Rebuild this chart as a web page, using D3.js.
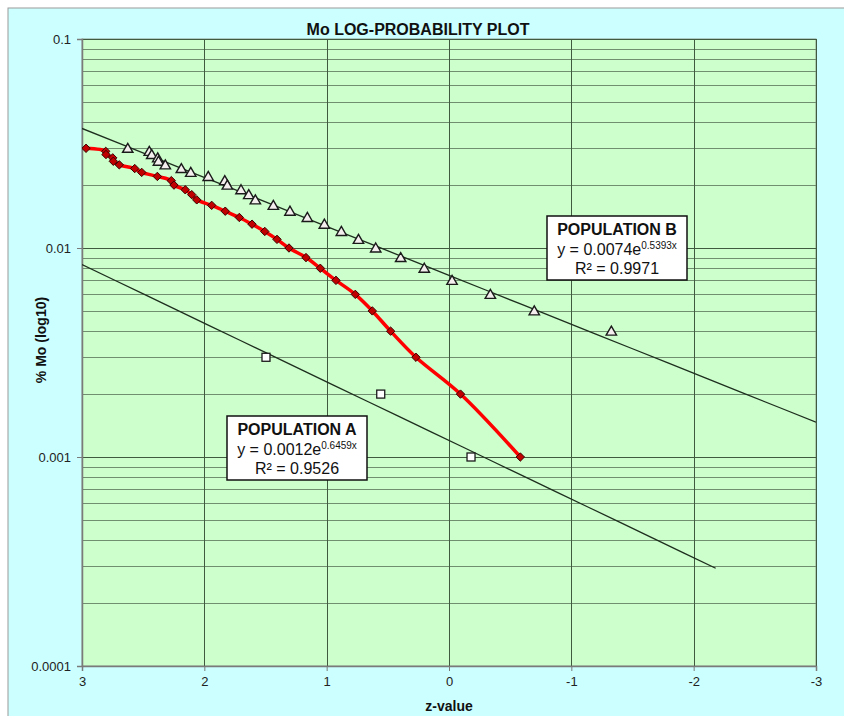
<!DOCTYPE html>
<html>
<head>
<meta charset="utf-8">
<script src="https://cdn.jsdelivr.net/npm/d3@7"></script>
<style>
  html, body { margin: 0; padding: 0; background: #ffffff; }
  svg { display: block; }
</style>
</head>
<body>
<svg id="chart" width="844" height="716"></svg>
<script>
// ---------------- DATA ----------------
const chartTitle = "Mo LOG-PROBABILITY PLOT";
const xAxisTitle = "z-value";
const yAxisTitle = "% Mo (log10)";

const xTickValues = [3, 2, 1, 0, -1, -2, -3];
const xTickLabels = ["3", "2", "1", "0", "-1", "-2", "-3"];
const yTickValues = [0.1, 0.01, 0.001, 0.0001];
const yTickLabels = ["0.1", "0.01", "0.001", "0.0001"];

// cumulative curve (red, diamonds)
const cumulativeZ = [2.967, 2.806, 2.804, 2.749, 2.744, 2.695, 2.569, 2.512, 2.384, 2.270,
  2.248, 2.156, 2.103, 2.062, 1.940, 1.829, 1.714, 1.610, 1.506, 1.406,
  1.308, 1.169, 1.052, 0.924, 0.766, 0.627, 0.477, 0.270, -0.094, -0.583];
const cumulativeMo = [0.030, 0.029, 0.028, 0.027, 0.026, 0.025, 0.024, 0.023, 0.022, 0.021,
  0.020, 0.019, 0.018, 0.017, 0.016, 0.015, 0.014, 0.013, 0.012, 0.011,
  0.010, 0.009, 0.008, 0.007, 0.006, 0.005, 0.004, 0.003, 0.002, 0.001];

// Population B (triangles)
const popBZ = [2.626, 2.450, 2.430, 2.381, 2.375, 2.319, 2.188, 2.111, 1.968, 1.833,
  1.812, 1.700, 1.637, 1.583, 1.436, 1.300, 1.158, 1.019, 0.880, 0.740,
  0.599, 0.395, 0.202, -0.025, -0.338, -0.697, -1.327];
const popBMo = [0.030, 0.029, 0.028, 0.027, 0.026, 0.025, 0.024, 0.023, 0.022, 0.021,
  0.020, 0.019, 0.018, 0.017, 0.016, 0.015, 0.014, 0.013, 0.012, 0.011,
  0.010, 0.009, 0.008, 0.007, 0.006, 0.005, 0.004];

// Population A (squares)
const popAZ = [1.496, 0.558, -0.180];
const popAMo = [0.003, 0.002, 0.001];

// exponential trendlines y = a * e^(b x)
const trendA = { label: "POPULATION A", a: 0.0012, b: 0.6459, r2: "0.9526", eq: "y = 0.0012e", exp: "0.6459x", from: 3, to: -2.18 };
const trendB = { label: "POPULATION B", a: 0.0074, b: 0.5393, r2: "0.9971", eq: "y = 0.0074e", exp: "0.5393x", from: 3, to: -3 };

// ---------------- LAYOUT ----------------
const svg = d3.select("#chart");
const plot = { left: 82, right: 816, top: 39, bottom: 666 };
const fontMain = "'Liberation Sans', Arial, sans-serif";
const fontNarrow = "'Liberation Sans Narrow', 'Arial Narrow', 'Liberation Sans', Arial, sans-serif";

// chart area background
svg.append("rect").attr("x", 8).attr("y", 8).attr("width", 844 - 8 + 2).attr("height", 716 - 8 + 2)
  .attr("fill", "#ccffff").attr("stroke", "#9a9a9a").attr("stroke-width", 1);

const x = d3.scaleLinear().domain([3, -3]).range([plot.left, plot.right]);
const y = d3.scaleLog().domain([0.0001, 0.1]).range([plot.bottom, plot.top]);

// plot area
svg.append("rect").attr("x", plot.left).attr("y", plot.top)
  .attr("width", plot.right - plot.left).attr("height", plot.bottom - plot.top)
  .attr("fill", "#ccffcc").attr("stroke", "#8a9a8a").attr("stroke-width", 1);

// horizontal gridlines (minor + major)
const gridG = svg.append("g");
gridG.selectAll("line.h").data(y.ticks()).join("line")
  .attr("x1", plot.left).attr("x2", plot.right)
  .attr("y1", d => Math.round(y(d)) + 0.5).attr("y2", d => Math.round(y(d)) + 0.5)
  .attr("stroke", d => yTickValues.includes(+d.toPrecision(3)) ? "#3f5a3f" : "#6f8f6f")
  .attr("stroke-width", 1);
// vertical gridlines
gridG.selectAll("line.v").data(xTickValues).join("line")
  .attr("y1", plot.top).attr("y2", plot.bottom)
  .attr("x1", d => Math.round(x(d)) + 0.5).attr("x2", d => Math.round(x(d)) + 0.5)
  .attr("stroke", "#3f5a3f").attr("stroke-width", 1);

// axes
const xAxis = d3.axisBottom(x).tickValues(xTickValues).tickSize(5).tickPadding(6)
  .tickFormat((d, i) => xTickLabels[i]);
const xg = svg.append("g").attr("transform", `translate(0,${plot.bottom})`).call(xAxis);
xg.select(".domain").attr("stroke", "#7a7a7a").attr("stroke-width", 1.5);
xg.selectAll(".tick line").attr("stroke", "#7a7a7a");
xg.selectAll("text").attr("font-family", fontMain).attr("font-size", 13).attr("fill", "#222");

const yAxis = d3.axisLeft(y).tickValues(yTickValues).tickSize(5).tickPadding(6)
  .tickFormat((d, i) => yTickLabels[i]);
const yg = svg.append("g").attr("transform", `translate(${plot.left},0)`).call(yAxis);
yg.select(".domain").attr("stroke", "#7a7a7a").attr("stroke-width", 1.5);
yg.selectAll(".tick line").attr("stroke", "#7a7a7a");
yg.selectAll("text").attr("font-family", fontMain).attr("font-size", 13).attr("fill", "#222");

// titles
svg.append("text").attr("x", 418).attr("y", 35).attr("text-anchor", "middle")
  .attr("font-family", fontNarrow).attr("font-weight", "bold").attr("font-size", 16)
  .attr("fill", "#111").text(chartTitle);
svg.append("text").attr("x", 449).attr("y", 711).attr("text-anchor", "middle")
  .attr("font-family", fontNarrow).attr("font-weight", "bold").attr("font-size", 14)
  .attr("fill", "#111").text(xAxisTitle);
svg.append("text").attr("transform", "translate(46,340) rotate(-90)").attr("text-anchor", "middle")
  .attr("font-family", fontNarrow).attr("font-weight", "bold").attr("font-size", 14)
  .attr("fill", "#111").text(yAxisTitle);

// clip for data
svg.append("clipPath").attr("id", "plotClip").append("rect")
  .attr("x", plot.left).attr("y", plot.top)
  .attr("width", plot.right - plot.left).attr("height", plot.bottom - plot.top);
const dataG = svg.append("g").attr("clip-path", "url(#plotClip)");

// trendlines
const line = d3.line().x(d => x(d[0])).y(d => y(d[1]));
[trendA, trendB].forEach(t => {
  const pts = d3.range(0, 21).map(i => {
    const z = t.from + (t.to - t.from) * i / 20;
    return [z, t.a * Math.exp(t.b * z)];
  });
  dataG.append("path").attr("d", line(pts)).attr("fill", "none")
    .attr("stroke", "#1e2e1e").attr("stroke-width", 1.3);
});

// cumulative red curve
const cumData = cumulativeZ.map((z, i) => [z, cumulativeMo[i]]);
dataG.append("path")
  .attr("d", d3.line().x(d => x(d[0])).y(d => y(d[1])).curve(d3.curveCatmullRom.alpha(0.5))(cumData))
  .attr("fill", "none").attr("stroke", "#ff0000").attr("stroke-width", 3.5)
  .attr("stroke-linejoin", "round");

// markers
dataG.selectAll("path.diamond").data(cumData).join("path")
  .attr("d", "M0,-4.2L4.2,0L0,4.2L-4.2,0Z")
  .attr("transform", d => `translate(${x(d[0])},${y(d[1])})`)
  .attr("fill", "#c00000").attr("stroke", "#3a0000").attr("stroke-width", 1);

const bData = popBZ.map((z, i) => [z, popBMo[i]]);
dataG.selectAll("path.tri").data(bData).join("path")
  .attr("d", "M0,-5L5.2,4L-5.2,4Z")
  .attr("transform", d => `translate(${x(d[0])},${y(d[1])})`)
  .attr("fill", "#f4eeee").attr("stroke", "#1a1a1a").attr("stroke-width", 1.4);

const aData = popAZ.map((z, i) => [z, popAMo[i]]);
dataG.selectAll("rect.sq").data(aData).join("rect")
  .attr("x", d => x(d[0]) - 4).attr("y", d => y(d[1]) - 4)
  .attr("width", 8).attr("height", 8)
  .attr("fill", "#ffffff").attr("stroke", "#1a1a1a").attr("stroke-width", 1.3);

// annotation boxes
function labelBox(t, bx, by, bw, bh) {
  const g = svg.append("g").attr("transform", `translate(${bx},${by})`);
  g.append("rect").attr("width", bw).attr("height", bh)
    .attr("fill", "#ffffff").attr("stroke", "#111").attr("stroke-width", 1.5);
  const cx = bw / 2;
  g.append("text").attr("x", cx).attr("y", 19).attr("text-anchor", "middle")
    .attr("font-family", fontMain).attr("font-weight", "bold").attr("font-size", 16)
    .attr("fill", "#111").text(t.label);
  const eq = g.append("text").attr("x", cx).attr("y", 39).attr("text-anchor", "middle")
    .attr("font-family", fontMain).attr("font-size", 16).attr("fill", "#111");
  eq.append("tspan").text(t.eq);
  eq.append("tspan").attr("font-size", 10).attr("dy", -6).text(t.exp);
  g.append("text").attr("x", cx).attr("y", 58).attr("text-anchor", "middle")
    .attr("font-family", fontMain).attr("font-size", 16)
    .attr("fill", "#111").text("R² = " + t.r2);
}
labelBox(trendA, 227, 416, 140, 64);
labelBox(trendB, 547, 216, 140, 64);
</script>
</body>
</html>
